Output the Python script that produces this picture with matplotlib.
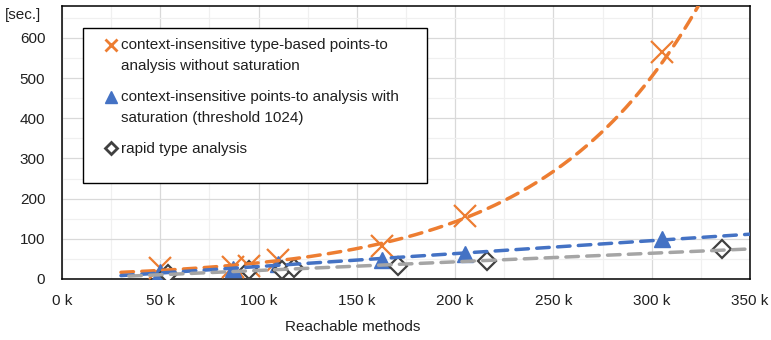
import numpy as np
import matplotlib.pyplot as plt
from matplotlib.lines import Line2D
from matplotlib.patches import Rectangle
from matplotlib.legend_handler import HandlerLine2D

plt.rcParams['font.family'] = ['Liberation Sans', 'DejaVu Sans']
fs = 11

# reachable methods (in thousands) and analysis time in seconds
k_types = [50, 87, 95, 110, 163, 205, 305]
t_types = [27, 30, 33, 47, 82, 157, 565]

k_sat = [50, 87, 110, 163, 205, 305]
t_sat = [17, 25, 38, 47, 62, 100]

k_rta = [54, 95, 112, 118, 171, 216, 336]
t_rta = [13, 22, 22, 27, 32, 45, 74]

labels = ["context-insensitive type-based points-to\nanalysis without saturation",
          "context-insensitive points-to analysis with\nsaturation (threshold 1024)",
          "rapid type analysis"]

orange = '#ED7D31'
blue = '#4472C4'
gray = '#A5A5A5'
dark = '#404040'


class FirstLineHandler(HandlerLine2D):
    # put the legend marker next to the first line of a two-line label
    def __init__(self, shift, **kw):
        super().__init__(**kw)
        self.shift = shift

    def create_artists(self, legend, orig_handle, xdescent, ydescent, width, height, fontsize, trans):
        arts = super().create_artists(legend, orig_handle, xdescent, ydescent, width, height, fontsize, trans)
        for a in arts:
            a.set_ydata(np.asarray(a.get_ydata()) + self.shift)
        return arts


fig = plt.figure(figsize=(7.71, 3.40), dpi=100)
ax = fig.add_axes([62/771, 1-279/340, 688/771, 273.3/340])

ax.set_xlim(0, 350)
ax.set_ylim(0, 680)

# markers
ax.plot(k_types, t_types, ls='none', marker='x', ms=16, mew=1.6, color=orange, zorder=3)
ax.plot(k_sat, t_sat, ls='none', marker='^', ms=11, color=blue, zorder=3)
ax.plot(k_rta, t_rta, ls='none', marker='D', ms=9, mfc='white', mec=dark, mew=1.6, zorder=3)

# trendlines (exponential for the first, linear for the others)
def trend_x(k):
    return np.linspace(min(k) - 20, 350, 300)

b, ln_a = np.polyfit(k_types, np.log(t_types), 1)
xs = trend_x(k_types)
ax.plot(xs, np.exp(ln_a + b * xs), color=orange, lw=2.5, dashes=(3.6, 2.4),
        dash_capstyle='round', zorder=4)

m, c = np.polyfit(k_sat, t_sat, 1)
xs = trend_x(k_sat)
ax.plot(xs, m * xs + c, color=blue, lw=2.5, dashes=(3.6, 2.4), dash_capstyle='round', zorder=4)

m, c = np.polyfit(k_rta, t_rta, 1)
xs = trend_x(k_rta)
ax.plot(xs, m * xs + c, color=gray, lw=2.5, dashes=(3.6, 2.4), dash_capstyle='round', zorder=4)

# grid
ax.set_xticks(np.arange(0, 351, 50))
ax.set_xticks(np.arange(0, 351, 25), minor=True)
ax.set_yticks(np.arange(0, 601, 100))
ax.set_yticks(np.arange(0, 681, 50), minor=True)
ax.set_xticklabels([f'{v} k' for v in range(0, 351, 50)])
ax.grid(which='major', color='#D9D9D9', lw=0.9, zorder=0)
ax.grid(which='minor', color='#F0F0F0', lw=0.9, zorder=0)
ax.set_axisbelow(True)
ax.tick_params(which='both', length=0, colors='#202020', labelsize=fs)
ax.tick_params(axis='x', pad=11)
ax.tick_params(axis='y', pad=12)
for s in ax.spines.values():
    s.set_color('black')
    s.set_linewidth(1.1)

fig.text(23/771, 1-15/340, '[sec.]', ha='center', va='center', fontsize=fs, color='#202020')
fig.text(353/771, 1-327/340, 'Reachable methods', ha='center', va='center', fontsize=fs, color='#202020')

# legend
box = Rectangle((83/771, 1-183/340), 344/771, 155/340, transform=fig.transFigure,
                facecolor='white', edgecolor='black', lw=1.0, zorder=5)
fig.patches.append(box)
handles = [Line2D([], [], ls='none', marker='x', ms=8, mew=2, color=orange),
           Line2D([], [], ls='none', marker='^', ms=9, color=blue),
           Line2D([], [], ls='none', marker='D', ms=6, mfc='white', mec=dark, mew=2)]
hmap = {handles[0]: FirstLineHandler(8), handles[1]: FirstLineHandler(8)}
leg = fig.legend(handles, labels, loc='upper left', bbox_to_anchor=(105/771, 1-38/340),
                 frameon=False, fontsize=fs, handlelength=0.8, handletextpad=0.25,
                 labelspacing=1.1, borderpad=0, borderaxespad=0, handler_map=hmap)
leg.set_zorder(6)
for t in leg.get_texts():
    t.set_linespacing(1.65)
    t.set_color('#202020')

fig.savefig('out.png', dpi=100)
